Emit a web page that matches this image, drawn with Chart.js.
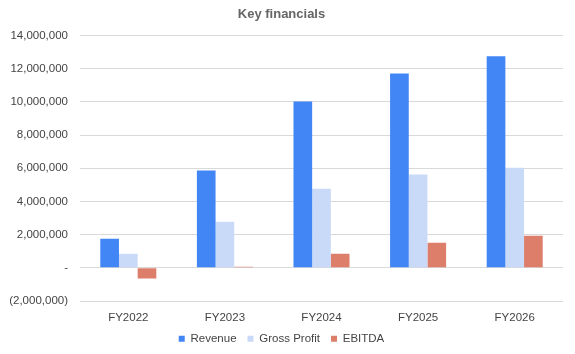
<!DOCTYPE html>
<html>
<head>
<meta charset="utf-8">
<script src="https://cdn.jsdelivr.net/npm/chart.js@4"></script>
<style>
  html, body { margin:0; padding:0; background:#fff; }
  #wrap { width:575px; height:354px; }
</style>
</head>
<body>
<div id="wrap"><canvas id="chart"></canvas></div>
<script>
const years       = ['FY2022', 'FY2023', 'FY2024', 'FY2025', 'FY2026'];
const revenue     = [1750000, 5860000, 10020000, 11720000, 12750000];
const grossProfit = [850000, 2780000, 4770000, 5620000, 6040000];
const ebitda      = [-650000, 60000, 850000, 1510000, 1930000];

// accounting style: (2,000,000) and "-" for zero
function fmtAcct(v){
  if (v === 0) return '-';
  const s = Math.abs(v).toLocaleString('en-US');
  return v < 0 ? '(' + s + ')' : s;
}

const font = 'Arial, "Liberation Sans", sans-serif';

new Chart(document.getElementById('chart'), {
  type: 'bar',
  data: {
    labels: years,
    datasets: [
      { label:'Revenue', data: revenue, backgroundColor:'#4285f4' },
      { label:'Gross Profit', data: grossProfit, backgroundColor:'#c9daf8' },
      { label:'EBITDA', data: ebitda, backgroundColor:'#dd7e6b' }
    ]
  },
  options: {
    responsive: true,
    maintainAspectRatio: false,
    animation: false,
    layout: { padding: { left: 0, right: 12, top: 5, bottom: 0 } },
    datasets: { bar: { categoryPercentage: 0.58, barPercentage: 1.0 } },
    plugins: {
      title: {
        display: true, text: 'Key financials', color:'#666',
        font: { family: font, size: 13, weight: 'bold' },
        padding: { top: 2, bottom: 13 }
      },
      legend: {
        position: 'bottom',
        maxHeight: 32,
        labels: {
          color:'#444', boxWidth: 6, boxHeight: 6, padding: 11,
          font: { family: font, size: 11.5 }
        }
      },
      tooltip: { enabled: false }
    },
    scales: {
      x: {
        afterFit: (s) => { s.height = 21; },
        grid: { display: false, drawTicks: false },
        border: { display: false },
        ticks: { color:'#444', font: { family: font, size: 11.5 }, padding: 10 }
      },
      y: {
        min: -2000000, max: 14000000,
        afterFit: (s) => { s.width = 80; },
        grid: { color:'#d9d9d9', lineWidth: 1, drawTicks: false },
        border: { display: false },
        ticks: {
          stepSize: 2000000, color:'#444', padding: 12,
          font: { family: font, size: 11.5 },
          callback: (v) => fmtAcct(v)
        }
      }
    }
  }
});
</script>
</body>
</html>
